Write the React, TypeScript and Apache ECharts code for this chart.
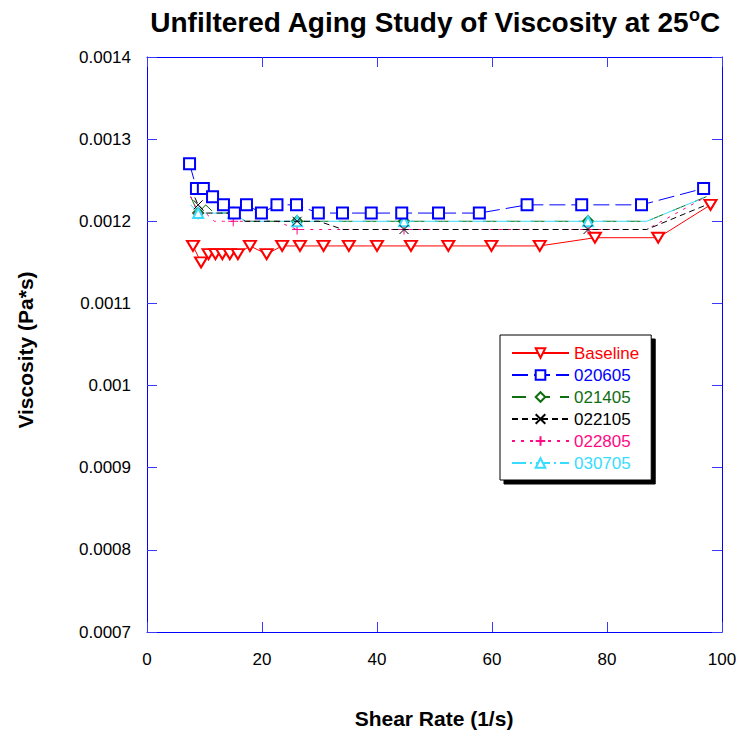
import React, { useEffect, useRef } from 'react';
import * as echarts from 'echarts';

// ---- data ----
const baselineShear = [8.0, 9.4, 10.7, 11.9, 13.1, 14.4, 15.8, 17.9, 20.8, 23.5, 26.6, 30.7, 35.1, 40.0, 45.9, 52.4, 59.9, 68.3, 77.9, 88.9, 98.0];
const baselineVisc = [0.00117, 0.00115, 0.00116, 0.00116, 0.00116, 0.00116, 0.00116, 0.00117, 0.00116, 0.00117, 0.00117, 0.00117, 0.00117, 0.00117, 0.00117, 0.00117, 0.00117, 0.00117, 0.00118, 0.00118, 0.00122];

const s020605Shear = [7.4, 8.6, 9.8, 11.4, 13.3, 15.2, 17.3, 19.9, 22.6, 26.0, 29.8, 34.0, 39.0, 44.3, 50.7, 57.8, 66.1, 75.6, 86.0, 96.8];
const s020605Visc = [0.00127, 0.00124, 0.00124, 0.00123, 0.00122, 0.00121, 0.00122, 0.00121, 0.00122, 0.00122, 0.00121, 0.00121, 0.00121, 0.00121, 0.00121, 0.00121, 0.00122, 0.00122, 0.00122, 0.00124];

const laterShear = [7.6, 8.9, 10.2, 11.7, 13.3, 15.0, 17.1, 19.7, 22.6, 26.1, 29.9, 34.1, 39.1, 44.7, 51.0, 58.2, 66.6, 76.7, 86.9, 97.3];
const s021405Visc = [0.00123, 0.00121, 0.00122, 0.00121, 0.00121, 0.00121, 0.0012, 0.0012, 0.0012, 0.0012, 0.0012, 0.0012, 0.0012, 0.0012, 0.0012, 0.0012, 0.0012, 0.0012, 0.0012, 0.00123];
const s022105Visc = [0.00124, 0.00122, 0.00121, 0.00121, 0.00121, 0.00121, 0.0012, 0.0012, 0.0012, 0.0012, 0.0012, 0.00119, 0.00119, 0.00119, 0.00119, 0.00119, 0.00119, 0.00119, 0.00119, 0.00122];
const s022805Visc = [0.00123, 0.00121, 0.00121, 0.0012, 0.0012, 0.0012, 0.0012, 0.0012, 0.0012, 0.00119, 0.00119, 0.00119, 0.00119, 0.00119, 0.00119, 0.00119, 0.00119, 0.00119, 0.00119, 0.00123];
const s030705Visc = [0.00122, 0.00121, 0.00121, 0.00121, 0.00121, 0.00121, 0.0012, 0.0012, 0.0012, 0.0012, 0.0012, 0.0012, 0.0012, 0.0012, 0.0012, 0.0012, 0.0012, 0.0012, 0.0012, 0.00123];
const laterMarkerIdx = [1, 5, 9, 13, 17];

const seriesNames = ['Baseline', '020605', '021405', '022105', '022805', '030705'];
const xTicks = [0, 20, 40, 60, 80, 100];

const FONT = "'Liberation Sans', Arial, Helvetica, sans-serif";
const COLORS = {
  Baseline: '#ff0000',
  '020605': '#0000ff',
  '021405': '#0f6e0f',
  '022105': '#000000',
  '022805': '#ff0a84',
  '030705': '#38dcff',
};
const AXIS = '#0000ff';

const X_PATH = 'path://M0,0L10,10M10,0L0,10';
const PLUS_PATH = 'path://M5,0L5,10M0,5L10,5';

function allPoints(xs: number[], ys: number[]) {
  return xs.map((x, i) => [x, ys[i]]);
}
function somePoints(xs: number[], ys: number[], marks: number[]) {
  return xs.map((x, i) => (marks.includes(i) ? { value: [x, ys[i]] } : { value: [x, ys[i]], symbol: 'none' }));
}

export default function App() {
  const ref = useRef<HTMLDivElement>(null);
  useEffect(() => {
    if (!ref.current) return;
    const chart = echarts.init(ref.current, undefined, { renderer: 'svg' });
    const fmt = (v: number) => Number(v.toPrecision(4)).toString();
    const axisCommon = {
      type: 'value' as const,
      axisLine: { show: true, onZero: false, lineStyle: { color: AXIS, width: 1 } },
      axisTick: { show: true, inside: true, length: 10, lineStyle: { color: '#3a3aff', width: 1 } },
      splitLine: { show: false },
    };
    const option: any = {
      animation: false,
      backgroundColor: '#ffffff',
      grid: { left: 147, top: 57, right: 18, bottom: 101, containLabel: false },
      xAxis: [
        {
          ...axisCommon, position: 'bottom', min: xTicks[0], max: xTicks[xTicks.length - 1], interval: 20,
          axisLabel: { color: '#000', fontSize: 17, fontFamily: FONT, margin: 19 },
        },
        {
          ...axisCommon, position: 'top', min: xTicks[0], max: xTicks[xTicks.length - 1], interval: 20,
          axisLabel: { show: false },
        },
      ],
      yAxis: [
        {
          ...axisCommon, position: 'left', min: 0.0007, max: 0.0014, interval: 0.0001,
          axisLabel: { color: '#000', fontSize: 17, fontFamily: FONT, margin: 16, formatter: fmt },
        },
        {
          ...axisCommon, position: 'right', min: 0.0007, max: 0.0014, interval: 0.0001,
          axisLabel: { show: false },
        },
      ],
      legend: {
        orient: 'vertical', left: 500, top: 335,
        padding: [9, 12, 8, 11], itemGap: 4, itemWidth: 57, itemHeight: 12,
        backgroundColor: '#ffffff', borderColor: '#000', borderWidth: 1,
        shadowColor: '#000', shadowOffsetX: 4, shadowOffsetY: 4, shadowBlur: 0,
        textStyle: { fontSize: 17, fontFamily: FONT, lineHeight: 18 },
        data: seriesNames.map((n) => ({ name: n, textStyle: { color: (COLORS as any)[n] } })),
      },
      graphic: [
        {
          type: 'text', x: 435, y: 22, z: 10,
          style: {
            text: '{a|Unfiltered Aging Study of Viscosity at 25}{s|o}{a|C}',
            align: 'center', verticalAlign: 'middle',
            rich: {
              a: { fontSize: 28, fontWeight: 'bold', fontFamily: FONT, fill: '#000', lineHeight: 32 },
              s: { fontSize: 18, fontWeight: 'bold', fontFamily: FONT, fill: '#000', lineHeight: 32, verticalAlign: 'top' },
            },
          },
        },
        {
          type: 'text', x: 25, y: 350, rotation: Math.PI / 2, z: 10,
          style: { text: 'Viscosity (Pa*s)', align: 'center', verticalAlign: 'middle', fontSize: 21, fontWeight: 'bold', fontFamily: FONT, fill: '#000' },
        },
        {
          type: 'text', x: 434, y: 718, z: 10,
          style: { text: 'Shear Rate (1/s)', align: 'center', verticalAlign: 'middle', fontSize: 21, fontWeight: 'bold', fontFamily: FONT, fill: '#000' },
        },
      ],
      series: [
        {
          name: 'Baseline', type: 'line', data: allPoints(baselineShear, baselineVisc),
          symbol: 'emptyTriangle', symbolRotate: 180, symbolSize: [12, 10], showAllSymbol: true,
          lineStyle: { color: COLORS.Baseline, width: 1 },
          itemStyle: { color: COLORS.Baseline, borderWidth: 1 },
          z: 8,
        },
        {
          name: '020605', type: 'line', data: allPoints(s020605Shear, s020605Visc),
          symbol: 'emptyRect', symbolSize: 11, showAllSymbol: true,
          lineStyle: { color: COLORS['020605'], width: 1, type: [16, 6] },
          itemStyle: { color: COLORS['020605'], borderWidth: 1 },
          z: 7,
        },
        {
          name: '021405', type: 'line', data: somePoints(laterShear, s021405Visc, laterMarkerIdx),
          symbol: 'emptyDiamond', symbolSize: 10, showAllSymbol: true,
          lineStyle: { color: COLORS['021405'], width: 1, type: [14, 10] },
          itemStyle: { color: COLORS['021405'], borderWidth: 1 },
          z: 3,
        },
        {
          name: '022105', type: 'line', data: somePoints(laterShear, s022105Visc, laterMarkerIdx),
          symbol: X_PATH, symbolSize: 9, showAllSymbol: true,
          lineStyle: { color: COLORS['022105'], width: 1, type: [6, 4] },
          itemStyle: { color: COLORS['022105'], borderColor: COLORS['022105'], borderWidth: 1 },
          z: 5,
        },
        {
          name: '022805', type: 'line', data: somePoints(laterShear, s022805Visc, laterMarkerIdx),
          symbol: PLUS_PATH, symbolSize: 10, showAllSymbol: true,
          lineStyle: { color: COLORS['022805'], width: 1, type: [3, 6] },
          itemStyle: { color: COLORS['022805'], borderColor: COLORS['022805'], borderWidth: 1 },
          z: 4,
        },
        {
          name: '030705', type: 'line', data: somePoints(laterShear, s030705Visc, laterMarkerIdx),
          symbol: 'emptyTriangle', symbolSize: 10, showAllSymbol: true,
          lineStyle: { color: COLORS['030705'], width: 1, type: [14, 4, 2, 4] },
          itemStyle: { color: COLORS['030705'], borderWidth: 1 },
          z: 4,
        },
      ],
    };
    chart.setOption(option);
    return () => chart.dispose();
  }, []);
  return <div ref={ref} style={{ position: 'absolute', left: 0, top: 0, width: 740, height: 733 }} />;
}
